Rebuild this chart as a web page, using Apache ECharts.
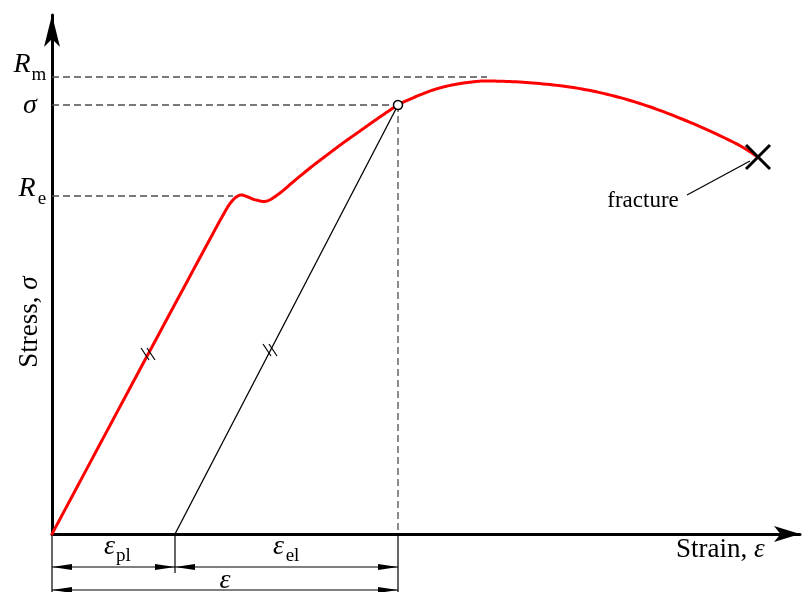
<!DOCTYPE html>
<html><head><meta charset="utf-8">
<script src="https://cdn.jsdelivr.net/npm/echarts@6/dist/echarts.min.js"></script>
<style>html,body{margin:0;padding:0;background:#fff}#c{width:802px;height:592px}</style>
</head><body><div id="c"></div>
<script>
// Schematic stress-strain curve (arbitrary units)
const curveStrain = [0, 86, 158, 170, 177, 183, 189, 196, 204, 215, 228, 241, 258, 275, 291, 308, 325, 346, 363, 381, 400, 420, 438, 481, 530, 580, 630, 681, 706];
const curveStress = [0, 161, 295, 317, 329, 336, 339, 337, 334, 333, 341, 352, 366, 379, 391, 403, 415, 429, 437, 444, 449, 452, 453, 451, 445, 433, 415, 392, 377];
const unloadStrain = [123, 346];
const unloadStress = [0, 429];
const levelNames = ['Rm', 'sigma', 'Re'];
const levelStress = [457, 429, 338];
const levelDashEnd = [435, 346, 181];
const fractureStrain = 706, fractureStress = 377;
const epsPl = 123, epsTotal = 346;
const hashStrain = [96, 218];
const hashStress = [180, 184];
const axisMaxStrain = 748, axisMaxStress = 519;

const SERIF = "'Liberation Serif','Times New Roman',serif";
const chart = echarts.init(document.getElementById('c'));
const lineSeries = [];
levelStress.forEach((s, i) => {
  lineSeries.push({type:'line', data:[[0, s],[levelDashEnd[i], s]], symbol:'none', silent:true,
    lineStyle:{color:'#4d4d4d', width:1.3, type:[7,4]}, z:1});
});
lineSeries.push({type:'line', data:[[epsTotal, unloadStress[1]],[epsTotal, 0]], symbol:'none', silent:true,
  lineStyle:{color:'#4d4d4d', width:1.3, type:[7,4]}, z:1});

function catmull(pts, steps) {
  const out = [pts[0]];
  for (let i = 0; i < pts.length - 1; i++) {
    const p0 = pts[i-1] || pts[i], p1 = pts[i], p2 = pts[i+1], p3 = pts[i+2] || pts[i+1];
    const c1 = [p1[0] + (p2[0]-p0[0])/6, p1[1] + (p2[1]-p0[1])/6];
    const c2 = [p2[0] - (p3[0]-p1[0])/6, p2[1] - (p3[1]-p1[1])/6];
    for (let k = 1; k <= steps; k++) {
      const t = k/steps, u = 1-t;
      out.push([
        u*u*u*p1[0] + 3*u*u*t*c1[0] + 3*u*t*t*c2[0] + t*t*t*p2[0],
        u*u*u*p1[1] + 3*u*u*t*c1[1] + 3*u*t*t*c2[1] + t*t*t*p2[1]
      ]);
    }
  }
  return out;
}

const option = {
  animation:false,
  grid:{left:52, right:2, top:15, bottom:58},
  xAxis:{type:'value', min:0, max:axisMaxStrain,
    axisLine:{onZero:false, lineStyle:{color:'#000', width:3}, symbol:['none','arrow'], symbolSize:[12,26]},
    axisTick:{show:false}, axisLabel:{show:false}, splitLine:{show:false}},
  yAxis:{type:'value', min:0, max:axisMaxStress,
    axisLine:{show:true, onZero:false, lineStyle:{color:'#000', width:3}, symbol:['none','arrow'], symbolSize:[12,32]},
    axisTick:{show:false}, axisLabel:{show:false}, splitLine:{show:false}},
  series: lineSeries.concat([
    {type:'line', data:unloadStrain.map((x,i)=>[x, unloadStress[i]]), symbol:'none', silent:true,
      lineStyle:{color:'#000', width:1.3}, z:2},
    {type:'custom', data:curveStrain.map((x,i)=>[x, curveStress[i]]), silent:true, z:3,
      encode:{x:0, y:1},
      renderItem:(params, api) => {
        if (params.dataIndex !== 0) return null;
        const pts = curveStrain.map((x,i)=>api.coord([x, curveStress[i]]));
        return {type:'polyline', shape:{points:catmull(pts, 14)},
          style:{stroke:'#ff0000', lineWidth:3, fill:null, lineJoin:'round', lineCap:'round'}};
      }},
    {type:'scatter', data:[[unloadStrain[1], unloadStress[1]]], symbol:'circle', symbolSize:9, silent:true,
      itemStyle:{color:'#fff', borderColor:'#000', borderWidth:1.5, opacity:1}, z:5}
  ])
};
chart.setOption(option);

const P = (x, y) => chart.convertToPixel({gridIndex:0}, [x, y]);
const g = [];
const txt = (text, x, y, size, opts) => g.push(Object.assign({type:'text', x, y, z:10, style:Object.assign({text, font:(opts&&opts.italic?'italic ':'') + size + 'px ' + SERIF, fill:'#000', align:'center', verticalAlign:'middle'}, opts&&opts.style)}, opts&&opts.el));
const seg = (x1,y1,x2,y2,w,c) => g.push({type:'line', z:10, shape:{x1,y1,x2,y2}, style:{stroke:c||'#000', lineWidth:w||1.2}});
const head = (x, y, dir) => g.push({type:'polygon', z:10, shape:{points:[[x,y],[x+dir*20,y-3],[x+dir*20,y+3]]}, style:{fill:'#000'}});
const dim = (x1, x2, y) => { seg(x1,y,x2,y,1.2); head(x1,y,1); head(x2,y,-1); };

const o = P(0,0), pPl = P(epsPl,0), pT = P(epsTotal,0);
const ay = o[1];
// extension lines
seg(o[0], ay+2, o[0], 592, 1.2);
seg(pPl[0], ay, pPl[0], ay+39, 1.2);
seg(pT[0], ay, pT[0], 592, 1.2);
dim(o[0], pPl[0], ay+33);
dim(pPl[0], pT[0], ay+33);
dim(o[0], pT[0], ay+56);
// dimension labels
const mPl = (o[0]+pPl[0])/2, mEl = (pPl[0]+pT[0])/2, mT = (o[0]+pT[0])/2;
txt('ε', mPl-4, ay+13, 28, {italic:true});
txt('pl', mPl+10, ay+22, 19);
txt('ε', mEl-8, ay+13, 28, {italic:true});
txt('el', mEl+6, ay+22, 19);
txt('ε', mT, ay+47, 28, {italic:true});
// level labels
const yRm = P(0, levelStress[0])[1], ySg = P(0, levelStress[1])[1], yRe = P(0, levelStress[2])[1];
txt('R', 22, yRm-12, 28, {italic:true});
txt('m', 39, yRm-2, 19);
txt('σ', 30, ySg+1, 28, {italic:true});
txt('R', 27, yRe-7, 28, {italic:true});
txt('e', 42, yRe+3, 19);
// axis titles
g.push({type:'text', x:30, y:322, rotation:Math.PI/2, z:10, style:{rich:{a:{font:'27px '+SERIF, fill:'#000'}, b:{font:'italic 27px '+SERIF, fill:'#000'}}, text:'{a|Stress, }{b|σ}', align:'center', verticalAlign:'middle'}});
g.push({type:'text', x:676, y:550, z:10, style:{rich:{a:{font:'27px '+SERIF, fill:'#000'}, b:{font:'italic 27px '+SERIF, fill:'#000'}}, text:'{a|Strain, }{b|ε}', align:'left', verticalAlign:'middle'}});
// fracture
const f = P(fractureStrain, fractureStress);
seg(f[0]-12, f[1]-12, f[0]+12, f[1]+12, 3);
seg(f[0]-12, f[1]+12, f[0]+12, f[1]-12, 3);
seg(f[0]-8, f[1]+4, f[0]-71, f[1]+38, 1.2);
txt('fracture', 643, 201, 23);
// parallel hash marks
hashStrain.forEach((x, i) => {
  const p = P(x, hashStress[i]);
  [-3, 3].forEach(d => seg(p[0]+d-4, p[1]-6, p[0]+d+4, p[1]+6, 1.2));
});
chart.setOption({graphic:{elements:g}});
</script>
</body></html>
